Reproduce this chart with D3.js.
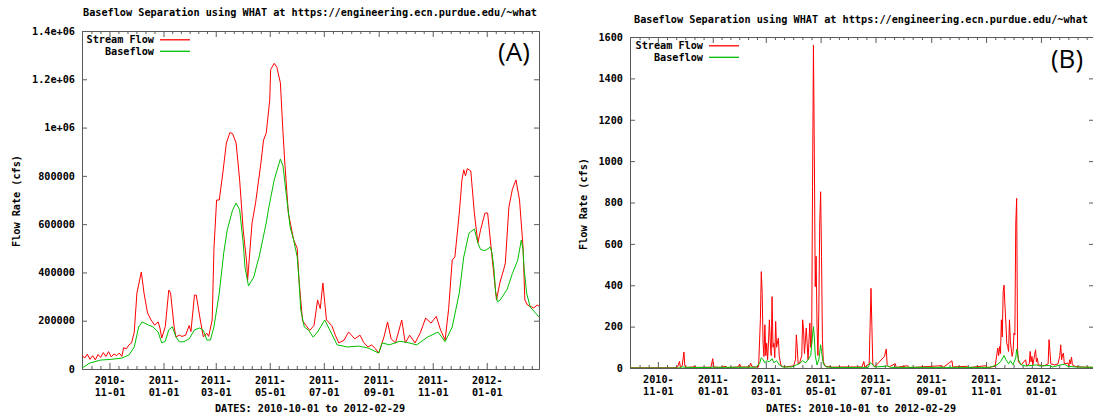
<!DOCTYPE html>
<html><head><meta charset="utf-8">
<script src="https://cdn.jsdelivr.net/npm/d3@7"></script>
<style>
body{margin:0;background:#fff}
svg text{font-family:"DejaVu Sans Mono",monospace;font-weight:bold;font-size:10.2px;fill:#000}
</style>
</head><body>
<svg id="c" width="1093" height="416"></svg>
<script>
// ---------- DATA ----------
const startDate = "2010-10-01";
const endDate = "2012-02-29";
const titleText = "Baseflow Separation using WHAT at https://engineering.ecn.purdue.edu/~what";
const yAxisTitle = "Flow Rate (cfs)";
const xAxisTitle = "DATES: 2010-10-01 to 2012-02-29";
const seriesNames = ["Stream Flow", "Baseflow"];
const panelTags = ["(A)", "(B)"];
const xTickDates = ["2010-11-01","2011-01-01","2011-03-01","2011-05-01","2011-07-01","2011-09-01","2011-11-01","2012-01-01"];

// Panel A (day offset from startDate, cfs)
const streamDaysA = [0,3,6,9,12,15,18,21,24,27,30,33,36,39,42,45,47,50,53,56,59,62,67,70,74,78,82,86,88,90,94,98,100,104,106,110,113,117,121,123,127,129,133,137,141,143,147,149,152,155,159,163,167,170,174,178,182,186,187,192,196,202,205,208,212,213,217,220,224,227,229,233,239,243,245,249,253,257,262,266,269,272,276,282,286,290,296,301,308,314,318,323,327,331,335,341,345,349,354,361,365,370,376,382,388,394,400,405,410,414,418,421,426,429,431,433,435,439,443,447,450,455,458,463,468,472,476,478,482,486,490,494,498,500,503,510,514,516];
const streamFlowA = [58000,45000,62000,40000,55000,38000,60000,48000,68000,52000,72000,50000,62000,55000,66000,52000,88000,84000,100000,108000,153000,315000,402000,315000,232000,203000,182000,195000,170000,128000,175000,327000,315000,175000,133000,140000,135000,140000,180000,155000,306000,306000,215000,133000,148000,135000,203000,500000,700000,700000,812000,936000,979000,975000,936000,783000,576000,439000,368000,605000,688000,853000,948000,977000,1114000,1240000,1266000,1250000,1185000,977000,853000,646000,534000,500000,370000,200000,180000,160000,180000,286000,250000,356000,203000,180000,140000,108000,120000,153000,125000,140000,110000,91000,100000,85000,66000,133000,195000,125000,108000,203000,108000,140000,108000,150000,211000,190000,218000,160000,120000,250000,451000,464000,646000,783000,825000,800000,830000,820000,646000,522000,576000,646000,646000,464000,286000,360000,410000,439000,670000,745000,783000,700000,505000,286000,265000,253000,265000,260000];
const baseDaysA = [0,9,21,33,45,53,59,64,68,75,80,86,90,94,98,102,106,110,115,121,127,133,137,141,145,149,155,160,164,170,174,178,182,184,188,194,198,200,208,211,217,224,227,231,235,239,243,245,247,251,256,261,266,274,280,288,300,312,323,335,339,347,359,367,378,390,402,410,418,426,431,437,443,447,450,455,461,463,465,467,469,472,480,486,492,496,498,499,502,506,514,516];
const baseFlowA = [4000,25000,37000,40000,45000,58000,91000,174000,195000,182000,175000,153000,108000,115000,162000,175000,133000,113000,113000,125000,162000,170000,160000,120000,120000,175000,315000,480000,576000,658000,687000,660000,522000,423000,344000,381000,439000,464000,605000,670000,783000,870000,840000,712000,588000,534000,464000,369000,245000,174000,160000,132000,153000,203000,160000,100000,91000,95000,87000,66000,108000,100000,115000,110000,100000,132000,153000,113000,174000,315000,464000,563000,580000,522000,495000,490000,505000,480000,420000,320000,278000,285000,330000,396000,451000,534000,495000,423000,315000,257000,224000,215000];
const yTicksA = [0,200000,400000,600000,800000,1000000,1200000,1400000];
const yTickLabelsA = ["0","200000","400000","600000","800000","1e+06","1.2e+06","1.4e+06"];

// Panel B (day offset from startDate, cfs)
const streamDaysB = [0,50,53,55,56,58,60,61,63,70,72,74,90,92,93,100,107,108,120,122,123,133,134,136,143,145,146,147,148,149,150,151,152,153,154,155,156,157,158,159,160,161,162,163,165,166,168,172,178,182,184,185,186,187,189,191,192,193,194,196,197,198,200,201,202,203,204,205,206,207,208,209,210,211,212,213,214,215,217,225,235,258,260,261,266,267,268,269,270,272,283,285,286,288,295,296,309,310,347,348,358,359,375,376,396,397,406,409,410,411,412,413,414,415,416,417,418,419,420,421,422,423,424,425,426,427,428,429,430,431,432,435,440,441,444,445,446,447,448,451,452,453,454,460,465,466,467,468,472,476,478,479,480,481,482,483,487,488,489,490,491,492,495,500,516];
const streamFlowB = [1,1,5,32,5,10,77,10,3,5,8,3,4,45,5,3,8,2,5,19,5,5,24,5,5,233,466,361,120,56,209,60,120,40,120,233,129,60,345,100,120,50,225,100,145,56,10,5,8,10,40,160,96,20,30,60,233,185,70,193,120,40,217,100,120,876,1561,1040,393,540,200,60,280,705,852,540,137,30,8,4,5,5,32,5,20,200,385,200,20,5,56,92,15,5,21,3,11,2,11,2,35,5,8,2,11,2,8,96,60,104,70,233,150,369,401,300,217,120,104,80,233,129,90,56,80,169,160,696,820,88,30,15,40,10,20,80,30,56,15,88,30,48,15,10,20,137,80,20,15,20,60,112,40,64,72,20,24,10,40,20,53,15,8,5,3];
const baseDaysB = [0,54,58,62,90,92,96,140,144,146,148,150,152,155,158,160,163,166,170,180,185,188,192,195,198,201,203,204,205,206,208,210,212,213,215,218,230,265,267,269,272,284,286,290,400,408,412,416,418,421,423,426,429,430,432,435,440,446,452,455,466,470,479,483,487,495,516];
const baseFlowB = [0,0,5,3,2,5,3,4,20,50,40,25,35,30,45,25,35,15,5,5,15,20,35,25,40,60,160,200,150,60,15,40,112,80,20,5,2,3,25,20,5,8,10,3,3,15,30,60,40,20,35,15,50,91,40,15,10,12,15,10,12,5,15,18,8,5,3];
const yTicksB = [0,200,400,600,800,1000,1200,1400,1600];
const yTickLabelsB = ["0","200","400","600","800","1000","1200","1400","1600"];

const seriesColors = ["#ff0000", "#00c000"];
const axisColor = "#5a5a5a";

// ---------- DRAW ----------
const svg = d3.select("#c");
const parse = d3.utcParse("%Y-%m-%d");
const t0 = parse(startDate), t1 = parse(endDate);
const toDate = d => d3.utcDay.offset(t0, d);

function panel(cfg) {
  const g = svg.append("g");
  const x = d3.scaleUtc().domain([t0, t1]).range([cfg.left, cfg.right]);
  const y = d3.scaleLinear().domain([0, cfg.yTicks[cfg.yTicks.length - 1]]).range([cfg.bottom, cfg.top]);
  const majors = xTickDates.map(parse);

  // minor ticks: 6 subdivisions between majors, extended to the ends
  const px = majors.map(x);
  const minorPx = [];
  for (let i = 0; i < px.length - 1; i++) {
    const s = (px[i + 1] - px[i]) / 6;
    for (let k = 1; k < 6; k++) minorPx.push(px[i] + k * s);
  }
  const s0 = (px[1] - px[0]) / 6;
  for (let p = px[0] - s0; p > cfg.left + 0.5; p -= s0) minorPx.push(p);
  const sN = (px[px.length - 1] - px[px.length - 2]) / 6;
  for (let p = px[px.length - 1] + sN; p < cfg.right - 0.5; p += sN) minorPx.push(p);
  const minors = minorPx.map(p => x.invert(p));

  const clipId = "clip" + cfg.tag.replace(/\W/g, "");
  svg.append("clipPath").attr("id", clipId).append("rect")
    .attr("x", cfg.left).attr("y", cfg.top).attr("width", cfg.right - cfg.left).attr("height", cfg.bottom - cfg.top);

  const styleAxis = sel => {
    sel.select(".domain").attr("stroke", axisColor);
    sel.selectAll(".tick line").attr("stroke", axisColor);
    sel.selectAll("text").attr("font-family", null).attr("font-size", null);
  };
  g.append("g").attr("transform", `translate(0,${cfg.bottom})`)
    .call(d3.axisBottom(x).tickValues(minors).tickSizeInner(-3).tickSizeOuter(0).tickFormat(""))
    .call(styleAxis);
  g.append("g").attr("transform", `translate(0,${cfg.top})`)
    .call(d3.axisTop(x).tickValues(minors).tickSizeInner(-3).tickSizeOuter(0).tickFormat(""))
    .call(styleAxis);
  g.append("g").attr("transform", `translate(0,${cfg.top})`)
    .call(d3.axisTop(x).tickValues(majors).tickSizeInner(-6).tickSizeOuter(0).tickFormat(""))
    .call(styleAxis);
  const xb = g.append("g").attr("transform", `translate(0,${cfg.bottom})`)
    .call(d3.axisBottom(x).tickValues(majors).tickSizeInner(-6).tickSizeOuter(0).tickPadding(0)
      .tickFormat(d3.utcFormat("%Y-%m-%d")))
    .call(styleAxis);
  xb.selectAll(".tick text").each(function(d) {
    const t = d3.select(this);
    const s = d3.utcFormat("%Y-")(d), s2 = d3.utcFormat("%m-%d")(d);
    t.text(null).attr("y", null).attr("dy", null);
    t.append("tspan").attr("x", 0).attr("y", 15).text(s);
    t.append("tspan").attr("x", 0).attr("y", 27).text(s2);
  });
  g.append("g").attr("transform", `translate(${cfg.left},0)`)
    .call(d3.axisLeft(y).tickValues(cfg.yTicks).tickSizeInner(-5).tickSizeOuter(0).tickPadding(7)
      .tickFormat((d, i) => cfg.yLabels[i]))
    .call(styleAxis);
  g.append("g").attr("transform", `translate(${cfg.right},0)`)
    .call(d3.axisRight(y).tickValues(cfg.yTicks).tickSizeInner(-5).tickSizeOuter(0).tickFormat(""))
    .call(styleAxis);

  // lines
  const line = d3.line().x(d => x(toDate(d[0]))).y(d => y(d[1]));
  const lg = g.append("g").attr("clip-path", `url(#${clipId})`);
  lg.append("path").datum(d3.zip(cfg.streamDays, cfg.streamFlow)).attr("d", line)
    .style("fill", "none").style("stroke", seriesColors[0]).style("stroke-width", 1);
  lg.append("path").datum(d3.zip(cfg.baseDays, cfg.baseFlow)).attr("d", line)
    .style("fill", "none").style("stroke", seriesColors[1]).style("stroke-width", 1);

  // texts
  g.append("text").attr("x", cfg.titleX).attr("y", cfg.titleY).attr("text-anchor", "middle").text(titleText);
  g.append("text").attr("transform", `translate(${cfg.yLabX},${cfg.yLabY}) rotate(-90)`)
    .attr("text-anchor", "middle").attr("dy", "0.35em").text(yAxisTitle);
  g.append("text").attr("x", cfg.titleX).attr("y", 412).attr("text-anchor", "middle").text(xAxisTitle);

  // legend
  const leg = g.append("g").attr("class", "legend");
  seriesNames.forEach((name, i) => {
    const yy = cfg.legY + i * 11.5;
    leg.append("text").attr("x", cfg.legTextRight).attr("y", yy).attr("dy", "0.35em")
      .attr("text-anchor", "end").text(name);
    leg.append("path")
      .attr("d", d3.line()([[cfg.legTextRight + 6, yy], [cfg.legTextRight + 36, yy]]))
      .style("fill", "none").style("stroke", seriesColors[i]).style("stroke-width", 1.3);
  });

  g.append("text").attr("x", cfg.tagX).attr("y", cfg.tagY).attr("text-anchor", "middle")
    .style("font-family", "'Open Sans', 'Liberation Sans', sans-serif").style("font-weight", "normal")
    .style("font-size", "26px").text(cfg.tag);
}

panel({left:82, right:539, top:31, bottom:369, yTicks:yTicksA, yLabels:yTickLabelsA,
  streamDays:streamDaysA, streamFlow:streamFlowA, baseDays:baseDaysA, baseFlow:baseFlowA,
  titleX:310, titleY:16, yLabX:16, yLabY:201, legTextRight:154, legY:39.8,
  tag:panelTags[0], tagX:514, tagY:61});
panel({left:630, right:1094, top:37, bottom:368, yTicks:yTicksB, yLabels:yTickLabelsB,
  streamDays:streamDaysB, streamFlow:streamFlowB, baseDays:baseDaysB, baseFlow:baseFlowB,
  titleX:861, titleY:23, yLabX:583, yLabY:204, legTextRight:703, legY:45.8,
  tag:panelTags[1], tagX:1067, tagY:68});
</script>
</body></html>
